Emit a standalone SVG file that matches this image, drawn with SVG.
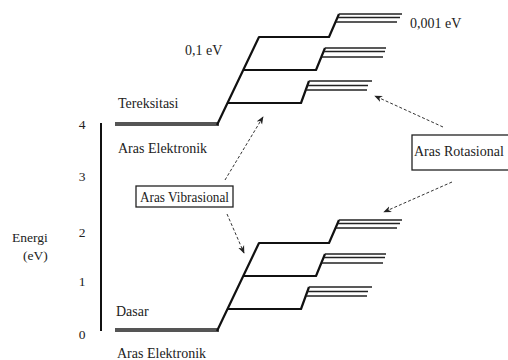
<svg xmlns="http://www.w3.org/2000/svg" width="508" height="360" viewBox="0 0 508 360" font-family="Liberation Serif, DejaVu Serif, serif">
<style>
text{fill:#222;font-size:14px}
.el{stroke:#555;stroke-width:4;fill:none}
.vib{stroke:#111;stroke-width:2.2;fill:none;stroke-linejoin:round}
.rot{stroke:#222;stroke-width:1.3;fill:none}
.ax{stroke:#111;stroke-width:2}
.box{fill:#fff;stroke:#222;stroke-width:1.3}
.arr{stroke:#333;stroke-width:1;stroke-dasharray:3 2;fill:none;marker-end:url(#ah)}
.num{font-size:13.5px}
</style>
<defs>
<marker id="ah" viewBox="0 0 10 10" refX="9" refY="5" markerWidth="8" markerHeight="8" orient="auto" markerUnits="userSpaceOnUse">
<path d="M0,1 L10,5 L0,9 L3,5 Z" fill="#222"/>
</marker>
<g id="levels">
<line class="el" x1="115" y1="124" x2="219" y2="124"/>
<path class="vib" d="M217,125 L259,37 L329,37 L339,14"/>
<path class="vib" d="M243.5,70 L316,70 L325,48"/>
<path class="vib" d="M228,103 L301,103 L309,81"/>
<line class="rot" x1="339" y1="14" x2="402" y2="14"/>
<line class="rot" x1="338" y1="17.5" x2="400" y2="17.5"/>
<line class="rot" x1="336" y1="22" x2="397" y2="22"/>
<line class="rot" x1="325" y1="48" x2="386" y2="48"/>
<line class="rot" x1="324" y1="51.5" x2="385" y2="51.5"/>
<line class="rot" x1="322" y1="57" x2="383" y2="57"/>
<line class="rot" x1="309" y1="81" x2="372" y2="81"/>
<line class="rot" x1="307.5" y1="85.5" x2="368" y2="85.5"/>
<line class="rot" x1="306" y1="90" x2="367" y2="90"/>
</g>
</defs>
<g id="axis">
<line class="ax" x1="101" y1="123" x2="101" y2="331"/>
<text class="num" x="82" y="129" text-anchor="middle">4</text>
<text class="num" x="82" y="181" text-anchor="middle">3</text>
<text class="num" x="82" y="237" text-anchor="middle">2</text>
<text class="num" x="82" y="286" text-anchor="middle">1</text>
<text class="num" x="82" y="339" text-anchor="middle">0</text>
<text class="num" x="12" y="242">Energi</text>
<text class="num" x="23" y="260">(eV)</text>
</g>
<g id="excited">
<use href="#levels"/>
<text x="118" y="108">Tereksitasi</text>
<text x="118" y="153">Aras Elektronik</text>
<text x="185" y="55">0,1 eV</text>
<text x="410" y="28">0,001 eV</text>
</g>
<g id="ground">
<use href="#levels" transform="translate(0,206)"/>
<text x="116" y="316">Dasar</text>
<text x="117" y="358">Aras Elektronik</text>
</g>
<g id="vib-box">
<rect class="box" x="136" y="186" width="97" height="21"/>
<text x="140" y="201.5" textLength="89" lengthAdjust="spacingAndGlyphs">Aras Vibrasional</text>
</g>
<g id="rot-box">
<rect class="box" x="412" y="135" width="100" height="35"/>
<text x="414" y="156">Aras Rotasional</text>
</g>
<g id="connectors">
<line class="arr" x1="225" y1="180" x2="263" y2="117"/>
<line class="arr" x1="227" y1="214" x2="244" y2="253"/>
<line class="arr" x1="443" y1="127" x2="375" y2="96"/>
<line class="arr" x1="452" y1="182" x2="384" y2="212"/>
</g>
</svg>
